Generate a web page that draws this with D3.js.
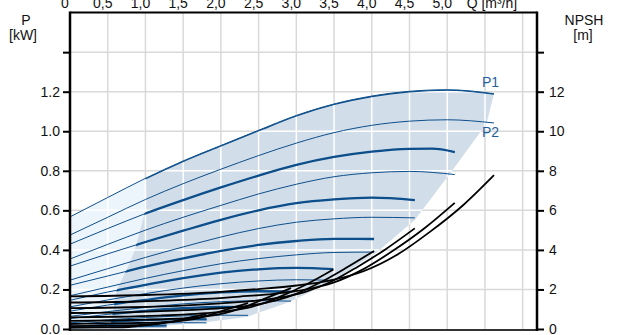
<!DOCTYPE html>
<html>
<head>
<meta charset="utf-8">
<script src="https://cdn.jsdelivr.net/npm/d3@7"></script>
<style>
  body { margin: 0; background: #fff; }
  svg { display: block; font-family: "Liberation Sans", Arial, sans-serif; }
</style>
</head>
<body>
<svg id="chart" width="617" height="335"></svg>
<script>
// axis ticks
const qTicks = [0, 0.5, 1, 1.5, 2, 2.5, 3, 3.5, 4, 4.5, 5];
const qLabels = ["0", "0,5", "1,0", "1,5", "2,0", "2,5", "3,0", "3,5", "4,0", "4,5", "5,0"];
const pTicks = [0, 0.2, 0.4, 0.6, 0.8, 1.0, 1.2, 1.4];
const pLabels = ["0.0", "0.2", "0.4", "0.6", "0.8", "1.0", "1.2", ""];
const npshTicks = [0, 2, 4, 6, 8, 10, 12, 14];
const npshLabels = ["0", "2", "4", "6", "8", "10", "12", ""];

// power curves [Q m3/h, P kW], P1 thick / P2 thin, per speed
const p1_100 = [[0,0.567],[0.5,0.665],[1.0,0.762],[1.5,0.85],[2.0,0.928],[2.5,1.005],[3.0,1.08],[3.5,1.138],[4.0,1.178],[4.5,1.202],[5.0,1.21],[5.62,1.19]];
const p2_100 = [[0,0.475],[0.5,0.565],[1.0,0.655],[1.5,0.735],[2.0,0.808],[2.5,0.877],[3.0,0.94],[3.5,0.993],[4.0,1.03],[4.5,1.051],[5.0,1.058],[5.62,1.042]];
const p1_90 = [[0,0.429],[0.5,0.508],[1.0,0.584],[1.5,0.652],[2.0,0.716],[2.5,0.776],[3.0,0.83],[3.5,0.87],[4.0,0.897],[4.5,0.911],[4.8,0.912],[5.1,0.895]];
const p2_90 = [[0,0.354],[0.5,0.428],[1.0,0.5],[1.5,0.565],[2.0,0.625],[2.5,0.683],[3.0,0.732],[3.5,0.77],[4.0,0.79],[4.5,0.797],[5.1,0.781]];
const p1_80 = [[0,0.318],[0.5,0.38],[1.0,0.44],[1.5,0.497],[2.0,0.552],[2.5,0.6],[3.0,0.636],[3.5,0.655],[4.0,0.664],[4.57,0.652]];
const p2_80 = [[0,0.247],[0.5,0.305],[1.0,0.362],[1.5,0.415],[2.0,0.465],[2.5,0.508],[3.0,0.54],[3.5,0.557],[4.0,0.565],[4.57,0.562]];
const p1_70 = [[0,0.221],[0.5,0.268],[1.0,0.315],[1.5,0.357],[2.0,0.395],[2.5,0.425],[3.0,0.445],[3.5,0.456],[4.03,0.455]];
const p2_70 = [[0,0.168],[0.5,0.212],[1.0,0.256],[1.5,0.295],[2.0,0.33],[2.5,0.356],[3.0,0.375],[3.5,0.387],[4.03,0.389]];
const p1_60 = [[0,0.145],[0.5,0.187],[1.0,0.223],[1.5,0.257],[2.0,0.285],[2.5,0.302],[3.0,0.309],[3.49,0.303]];
const p2_60 = [[0,0.112],[0.5,0.147],[1.0,0.179],[1.5,0.207],[2.0,0.229],[2.5,0.243],[3.0,0.249],[3.49,0.246]];
const p1_50 = [[0,0.09],[0.5,0.121],[1.0,0.147],[1.5,0.17],[2.0,0.185],[2.5,0.191],[2.93,0.189]];
const p2_50 = [[0,0.064],[0.5,0.088],[1.0,0.109],[1.5,0.127],[2.0,0.138],[2.5,0.143],[2.93,0.141]];
const p1_40 = [[0,0.053],[0.5,0.074],[1.0,0.092],[1.5,0.105],[2.0,0.112],[2.36,0.111]];
const p2_40 = [[0,0.031],[0.5,0.046],[1.0,0.058],[1.5,0.066],[2.0,0.07],[2.36,0.069]];
const p1_30 = [[0,0.023],[0.5,0.036],[1.0,0.045],[1.5,0.05],[1.81,0.049]];
const p2_30 = [[0,0.014],[0.5,0.023],[1.0,0.029],[1.5,0.032],[1.81,0.031]];
const p1_20 = [[0,0.008],[0.5,0.014],[1.0,0.017],[1.28,0.017]];
const p2_20 = [[0,0.005],[0.5,0.009],[1.0,0.011],[1.28,0.011]];

// NPSH curves [Q m3/h, NPSH m]
const n_100 = [[0,1.65],[1.0,1.72],[2.0,1.88],[2.5,2.02],[3.0,2.2],[3.44,2.45],[3.89,2.92],[4.33,3.74],[4.77,4.91],[5.21,6.26],[5.62,7.78]];
const n_90 = [[0,1.34],[0.9,1.39],[1.8,1.52],[2.25,1.64],[2.7,1.78],[3.1,1.98],[3.5,2.36],[3.89,3.03],[4.29,3.98],[4.69,5.07],[5.1,6.38]];
const n_80 = [[0,1.06],[0.8,1.1],[1.6,1.21],[2.0,1.3],[2.4,1.41],[2.75,1.57],[3.11,1.87],[3.46,2.39],[3.81,3.14],[4.17,4.0],[4.57,5.09]];
const n_70 = [[0,0.81],[0.7,0.84],[1.4,0.93],[1.75,0.99],[2.1,1.08],[2.41,1.2],[2.72,1.43],[3.03,1.83],[3.34,2.4],[3.65,3.07],[4.03,3.95]];
const n_60 = [[0,0.59],[0.6,0.62],[1.2,0.68],[1.5,0.73],[1.8,0.8],[2.06,0.89],[2.33,1.05],[2.6,1.35],[2.86,1.76],[3.13,2.25],[3.49,3.01]];
const n_50 = [[0,0.41],[0.5,0.43],[1.0,0.47],[1.5,0.54],[1.72,0.6],[1.94,0.71],[2.16,0.92],[2.38,1.21],[2.6,1.56],[2.93,2.07]];
const n_40 = [[0,0.26],[0.8,0.3],[1.2,0.34],[1.38,0.38],[1.55,0.45],[1.73,0.58],[1.9,0.77],[2.08,0.99],[2.36,1.31]];
const n_30 = [[0,0.15],[0.6,0.17],[0.9,0.2],[1.03,0.22],[1.17,0.26],[1.3,0.33],[1.43,0.43],[1.56,0.55],[1.81,0.76]];
const n_20 = [[0,0.07],[0.6,0.08],[0.78,0.1],[0.87,0.13],[0.95,0.17],[1.04,0.21],[1.28,0.34]];

// operating range boundary (below the top P1 curve), [Q, P]
const rangeRight = [[5.62,1.19],[5.52,1.038],[5.03,0.783],[4.57,0.551],[4.07,0.389],[3.48,0.242],[2.91,0.136],[2.34,0.061],[1.72,0.03],[1.06,0.01],[0.53,0]];
const rangeLeft = [[0.53,0],[0.62,0.197],[0.75,0.298],[0.86,0.40],[0.99,0.586],[1.0,0.762]];

const p1Curves = [p1_100, p1_90, p1_80, p1_70, p1_60, p1_50, p1_40, p1_30, p1_20];
const p2Curves = [p2_100, p2_90, p2_80, p2_70, p2_60, p2_50, p2_40, p2_30, p2_20];
const npshCurves = [n_100, n_90, n_80, n_70, n_60, n_50, n_40, n_30, n_20];

var svg = d3.select("svg#chart"),
  margin = { top: 12.6, right: 80, bottom: 6, left: 70 },
  width = +svg.attr("width") - margin.left - margin.right,
  height = +svg.attr("height") - margin.top - margin.bottom;

const blue = "#0d4f8b";

const x = d3.scaleLinear().domain([0, 6.19]).range([margin.left, margin.left + width]);
const y = d3.scaleLinear().domain([0, 1.6]).range([margin.top + height, margin.top]);
const yN = d3.scaleLinear().domain([0, 16]).range([margin.top + height, margin.top]);

const lineP = d3.line().x((d) => x(d[0])).y((d) => y(d[1])).curve(d3.curveMonotoneX);
const lineN = d3.line().x((d) => x(d[0])).y((d) => yN(d[1])).curve(d3.curveMonotoneX);
const lineStraight = d3.line().x((d) => x(d[0])).y((d) => y(d[1]));

const gridQ = d3.range(1, 13).map((i) => i * 0.5);
const gridP = [0.2, 0.4, 0.6, 0.8, 1.0, 1.2, 1.4];

function drawGrid(g, color) {
  g.selectAll(".gv").data(gridQ).join("line")
    .attr("x1", (d) => x(d)).attr("x2", (d) => x(d))
    .attr("y1", y(0)).attr("y2", y(1.6))
    .attr("stroke", color).attr("stroke-width", 1.5);
  g.selectAll(".gh").data(gridP).join("line")
    .attr("class", "gh")
    .attr("x1", x(0)).attr("x2", x(6.19))
    .attr("y1", (d) => y(d)).attr("y2", (d) => y(d))
    .attr("stroke", color).attr("stroke-width", 1.5);
}

// gray grid on white
drawGrid(svg.append("g"), "#d9d9d9");

// shaded regions
const lightPath = d3.area().x((d) => x(d[0])).y0(y(0)).y1((d) => y(d[1]))
  .curve(d3.curveMonotoneX)(p1_100.filter((d) => d[0] <= 1.0));
const darkPath = lineP(p1_100.filter((d) => d[0] >= 1.0)) +
  lineStraight(rangeRight.slice(1).concat(rangeLeft.slice(1))).replace("M", "L") + "Z";

const defs = svg.append("defs");
defs.append("clipPath").attr("id", "shadeClip")
  .call((c) => {
    c.append("path").attr("d", lightPath);
    c.append("path").attr("d", darkPath);
  });
defs.append("clipPath").attr("id", "darkClip").append("path").attr("d", darkPath);

svg.append("path").attr("d", lightPath).attr("fill", "#edf5fc");
svg.append("path").attr("d", darkPath).attr("fill", "#d1dde9");

// white grid inside shaded area
drawGrid(svg.append("g").attr("clip-path", "url(#shadeClip)"), "#ffffff");

// P2 curves (thin)
svg.append("g").selectAll("path").data(p2Curves).join("path")
  .attr("d", lineP).attr("fill", "none").attr("stroke", blue).attr("stroke-width", 1);

// P1 curves: thin everywhere, thick inside operating range
svg.append("g").selectAll("path").data(p1Curves).join("path")
  .attr("d", lineP).attr("fill", "none").attr("stroke", blue).attr("stroke-width", 1);
svg.append("g").attr("clip-path", "url(#darkClip)")
  .selectAll("path").data(p1Curves).join("path")
  .attr("d", lineP).attr("fill", "none").attr("stroke", blue).attr("stroke-width", 2.3);

// NPSH curves
svg.append("g").selectAll("path").data(npshCurves).join("path")
  .attr("d", lineN).attr("fill", "none").attr("stroke", "#000").attr("stroke-width", 1.8);

// curve labels
svg.append("text").attr("x", 482).attr("y", 86.5).attr("fill", "#1f5e9c")
  .attr("font-size", "14px").text("P1");
svg.append("text").attr("x", 482).attr("y", 137).attr("fill", "#1f5e9c")
  .attr("font-size", "14px").text("P2");

// axes
const yAxis = d3.axisLeft(y).tickValues(pTicks).tickSize(7).tickPadding(3)
  .tickFormat((d, i) => pLabels[i]);
const yAxisR = d3.axisRight(yN).tickValues(npshTicks).tickSize(7).tickPadding(5)
  .tickFormat((d, i) => npshLabels[i]);

svg.append("g").attr("transform", `translate(${x(0)},0)`).call(yAxis)
  .call((g) => {
    g.select(".domain").remove();
    g.selectAll(".tick line").attr("stroke", "#000").attr("stroke-width", 2);
    g.selectAll(".tick text").attr("fill", "#111").attr("font-size", "14px")
      .attr("font-family", "Liberation Sans, Arial, sans-serif");
  });
svg.append("g").attr("transform", `translate(${x(6.19)},0)`).call(yAxisR)
  .call((g) => {
    g.select(".domain").remove();
    g.selectAll(".tick line").attr("stroke", "#000").attr("stroke-width", 2);
    g.selectAll(".tick text").attr("fill", "#111").attr("font-size", "14px")
      .attr("font-family", "Liberation Sans, Arial, sans-serif");
  });

// Q labels along the top edge (cut off by the picture)
svg.append("g").selectAll("text").data(qTicks).join("text")
  .attr("x", (d) => x(d) - 5).attr("y", 7.5)
  .attr("text-anchor", "middle").attr("font-size", "14px").attr("fill", "#111")
  .text((d, i) => qLabels[i]);
svg.append("text").attr("x", x(5.5) + 7).attr("y", 7.5)
  .attr("text-anchor", "middle").attr("font-size", "14px").attr("fill", "#111")
  .text("Q [m³/h]");

// axis titles
svg.append("text").attr("x", 26).attr("y", 25).attr("text-anchor", "middle")
  .attr("font-size", "14px").attr("fill", "#111").text("P");
svg.append("text").attr("x", 23).attr("y", 40).attr("text-anchor", "middle")
  .attr("font-size", "14px").attr("fill", "#111").text("[kW]");
svg.append("text").attr("x", 584).attr("y", 25).attr("text-anchor", "middle")
  .attr("font-size", "14px").attr("fill", "#111").text("NPSH");
svg.append("text").attr("x", 583).attr("y", 40).attr("text-anchor", "middle")
  .attr("font-size", "14px").attr("fill", "#111").text("[m]");

// frame
svg.append("line").attr("x1", x(0)).attr("x2", x(6.19)).attr("y1", y(1.6)).attr("y2", y(1.6))
  .attr("stroke", "#000").attr("stroke-width", 2);
svg.append("line").attr("x1", x(0)).attr("x2", x(6.19)).attr("y1", y(0) + 1).attr("y2", y(0) + 1)
  .attr("stroke", "#333").attr("stroke-width", 2);
svg.append("line").attr("x1", x(0)).attr("x2", x(0)).attr("y1", y(1.6) - 1).attr("y2", y(0) + 2)
  .attr("stroke", "#000").attr("stroke-width", 2.5);
svg.append("line").attr("x1", x(6.19)).attr("x2", x(6.19)).attr("y1", y(1.6) - 1).attr("y2", y(0) + 2)
  .attr("stroke", "#000").attr("stroke-width", 2.5);
</script>
</body>
</html>
